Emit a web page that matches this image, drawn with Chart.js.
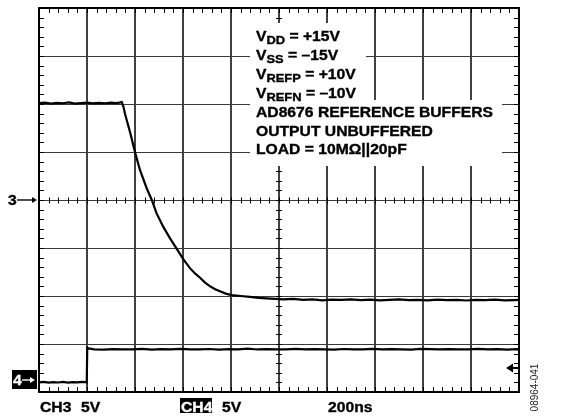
<!DOCTYPE html>
<html>
<head>
<meta charset="utf-8">
<script src="https://cdn.jsdelivr.net/npm/chart.js@4.4.1/dist/chart.umd.min.js"></script>
<style>
  html, body { margin: 0; padding: 0; background: #fff; }
  #wrap { width: 561px; height: 416px; }
</style>
</head>
<body>
<div id="wrap"><canvas id="scope" width="561" height="416"></canvas></div>
<script>
    // scope settings
    const nsPerDiv = 200;
    const voltsPerDiv = 5;
    const divsX = 10;
    const divsY = 8;
    const ch4GroundDiv = -3.75;   // CH4 marker sits below CH3 ground

    // CH3: buffered reference output, ns / V
    const ch3Time = [0, 25, 50, 75, 100, 125, 150, 175, 200, 225, 250, 275, 300, 320, 335, 345,
        352, 358, 368, 379, 391, 403, 421, 449, 470, 490, 518, 546, 574, 601, 629, 650, 671, 692,
        713, 734, 754, 778, 803, 840, 879, 915, 948, 985, 1020, 1060, 1100, 1140, 1180, 1220, 1260,
        1300, 1340, 1380, 1420, 1460, 1500, 1540, 1580, 1620, 1660, 1700, 1740, 1780, 1820, 1860,
        1900, 1940, 1980, 2000];
    const ch3Volts = [10.1, 10.15, 10.05, 10.12, 10.08, 10.16, 10.05, 10.1, 10.14, 10.06, 10.12, 10.08, 10.15, 10.1, 10.14, 10.2,
        9.7, 9.0, 8.1, 7.1, 5.9, 4.7, 3.1, 1.2, 0, -1.4, -2.8, -4.0, -5.1, -6.15, -7.1, -7.65, -8.1, -8.6,
        -9.0, -9.3, -9.5, -9.75, -9.9, -10.0, -10.1, -10.2, -10.25, -10.3, -10.35, -10.3, -10.4, -10.35, -10.45, -10.38, -10.4,
        -10.36, -10.42, -10.38, -10.45, -10.4, -10.36, -10.42, -10.4, -10.46, -10.38, -10.42, -10.4, -10.47, -10.4, -10.43,
        -10.38, -10.45, -10.42, -10.4];

    // CH4: logic step, ns / V
    const ch4Time = [0, 20, 40, 60, 80, 100, 120, 140, 160, 180, 199, 201, 206, 230, 270, 310, 350, 390,
        430, 470, 510, 550, 590, 630, 670, 710, 750, 790, 830, 870, 910, 950, 990, 1030, 1070, 1110,
        1150, 1190, 1230, 1270, 1310, 1350, 1390, 1430, 1470, 1510, 1550, 1590, 1630, 1670, 1710,
        1750, 1790, 1830, 1870, 1910, 1950, 1990, 2000];
    const ch4Volts = [-0.25, -0.2, -0.28, -0.22, -0.26, -0.2, -0.27, -0.22, -0.25, -0.2, -0.25, 3.35, 3.3, 3.2, 3.16, 3.22, 3.18, 3.2,
        3.24, 3.17, 3.21, 3.19, 3.25, 3.18, 3.2, 3.23, 3.17, 3.21, 3.2, 3.26, 3.18, 3.22, 3.19, 3.2, 3.24, 3.18,
        3.21, 3.2, 3.17, 3.23, 3.2, 3.19, 3.25, 3.18, 3.22, 3.2, 3.17, 3.24, 3.21, 3.19, 3.22,
        3.2, 3.18, 3.25, 3.2, 3.21, 3.17, 3.22, 3.2];

    const noteLines = [
        [['V', 0], ['DD', 1], [' = +15V', 0]],
        [['V', 0], ['SS', 1], [' = \u201315V', 0]],
        [['V', 0], ['REFP', 1], [' = +10V', 0]],
        [['V', 0], ['REFN', 1], [' = \u201310V', 0]],
        [['AD8676 REFERENCE BUFFERS', 0]],
        [['OUTPUT UNBUFFERED', 0]],
        [['LOAD = 10M\u03a9||20pF', 0]]
    ];
    const ch3Label = 'CH3';
    const ch4Label = 'CH4';
    const scaleLabel = '5V';
    const timeLabel = '200ns';
    const figureId = '08964-041';

    const FONT = '"Liberation Sans", Arial, Helvetica, sans-serif';
    const STRETCH = 1.12;

    // bold text, slightly widened and heavier like the scope's screen font
    function wideText(ctx, str, x, y, size, color) {
        ctx.save();
        ctx.font = 'bold ' + size + 'px ' + FONT;
        ctx.fillStyle = color || '#000';
        ctx.strokeStyle = color || '#000';
        ctx.lineWidth = 0.35;
        ctx.textBaseline = 'alphabetic';
        ctx.textAlign = 'left';
        ctx.translate(x, y);
        ctx.scale(STRETCH, 1);
        ctx.fillText(str, 0, 0);
        ctx.strokeText(str, 0, 0);
        const w = ctx.measureText(str).width * STRETCH;
        ctx.restore();
        return x + w;
    }

    function arrowRight(ctx, x0, x1, y, color) {
        ctx.save();
        ctx.strokeStyle = color;
        ctx.fillStyle = color;
        ctx.lineWidth = 1.4;
        ctx.beginPath();
        ctx.moveTo(x0, y);
        ctx.lineTo(x1 - 3, y);
        ctx.stroke();
        ctx.beginPath();
        ctx.moveTo(x1, y);
        ctx.lineTo(x1 - 5, y - 3);
        ctx.lineTo(x1 - 5, y + 3);
        ctx.closePath();
        ctx.fill();
        ctx.restore();
    }

    const crisp = v => Math.round(v) + 0.5;

    const scopeGrid = {
        id: 'scopeGrid',
        beforeDatasetsDraw(chart) {
            const ctx = chart.ctx;
            const xs = chart.scales.x;
            const ys = chart.scales.y;
            const a = chart.chartArea;
            const tMax = nsPerDiv * divsX;
            const vMax = voltsPerDiv * divsY / 2;

            ctx.save();

            // major divisions
            ctx.lineWidth = 1.5;
            ctx.strokeStyle = '#000';
            for (let i = 1; i < divsX; i++) {
                const px = Math.round(xs.getPixelForValue(i * nsPerDiv));
                ctx.beginPath();
                ctx.moveTo(px, a.top);
                ctx.lineTo(px, a.bottom);
                ctx.stroke();
            }
            ctx.lineWidth = 1.2;
            ctx.strokeStyle = '#3a3a3a';
            for (let j = 1; j < divsY; j++) {
                const py = crisp(ys.getPixelForValue(-vMax + j * voltsPerDiv));
                ctx.beginPath();
                ctx.moveTo(a.left, py);
                ctx.lineTo(a.right, py);
                ctx.stroke();
            }

            // minor ticks: border and centre cross
            ctx.lineWidth = 1;
            ctx.strokeStyle = '#000';
            const cx = Math.round(xs.getPixelForValue(tMax / 2));
            const cy = crisp(ys.getPixelForValue(0));
            ctx.beginPath();
            for (let t = 0; t <= tMax; t += nsPerDiv / 5) {
                const px = crisp(xs.getPixelForValue(t));
                ctx.moveTo(px, a.top); ctx.lineTo(px, a.top + 5);
                ctx.moveTo(px, a.bottom); ctx.lineTo(px, a.bottom - 5);
                ctx.moveTo(px, cy - 3); ctx.lineTo(px, cy + 3);
            }
            for (let v = -vMax; v <= vMax; v += voltsPerDiv / 5) {
                const py = crisp(ys.getPixelForValue(v));
                ctx.moveTo(a.left, py); ctx.lineTo(a.left + 5, py);
                ctx.moveTo(a.right, py); ctx.lineTo(a.right - 5, py);
                ctx.moveTo(cx - 3, py); ctx.lineTo(cx + 3, py);
            }
            ctx.stroke();

            // settings panel
            ctx.fillStyle = '#fff';
            ctx.fillRect(250, 23, 116, 77);
            ctx.fillRect(250, 100, 252, 66);
            noteLines.forEach((line, k) => {
                const base = 41 + k * 18.9;
                let x = 256;
                line.forEach(([txt, sub]) => {
                    x = sub ? wideText(ctx, txt, x, base + 3, 11.5) : wideText(ctx, txt, x, base, 14);
                });
            });

            // frame
            ctx.lineWidth = 2;
            ctx.strokeStyle = '#000';
            ctx.strokeRect(a.left, a.top, a.right - a.left, a.bottom - a.top);
            ctx.restore();
        },
        afterDraw(chart) {
            const ctx = chart.ctx;
            const ys = chart.scales.y;
            const y4 = chart.scales.y4;
            const g3 = ys.getPixelForValue(0);
            const g4 = y4.getPixelForValue(0);

            // channel ground markers
            wideText(ctx, '3', 8, g3 + 5, 14);
            arrowRight(ctx, 17, 37, g3, '#000');
            ctx.fillStyle = '#000';
            ctx.fillRect(12, g4 - 10, 25, 19);
            wideText(ctx, '4', 13, g4 + 5, 14, '#fff');
            arrowRight(ctx, 22, 35, g4, '#fff');

            // trigger level marker
            ctx.save();
            ctx.fillStyle = '#000';
            ctx.strokeStyle = '#000';
            ctx.lineWidth = 2;
            ctx.beginPath();
            ctx.moveTo(506, 368);
            ctx.lineTo(513, 363.5);
            ctx.lineTo(513, 372.5);
            ctx.closePath();
            ctx.fill();
            ctx.beginPath();
            ctx.moveTo(512, 368);
            ctx.lineTo(519, 368);
            ctx.stroke();
            ctx.restore();

            // channel / timebase readout
            wideText(ctx, ch3Label, 40, 412, 14);
            wideText(ctx, scaleLabel, 81, 412, 14);
            ctx.fillStyle = '#000';
            ctx.fillRect(180, 398, 32, 15);
            wideText(ctx, ch4Label, 181, 412, 14, '#fff');
            wideText(ctx, scaleLabel, 222, 412, 14);
            wideText(ctx, timeLabel, 328, 412, 14);

            ctx.save();
            ctx.translate(538, 387.5);
            ctx.rotate(-Math.PI / 2);
            ctx.font = '10px ' + FONT;
            ctx.fillStyle = '#222';
            ctx.textAlign = 'center';
            ctx.textBaseline = 'alphabetic';
            ctx.fillText(figureId, 0, 0);
            ctx.restore();
        }
    };

    function createChart() {
        const ctx = document.getElementById('scope').getContext('2d');
        const vMax = voltsPerDiv * divsY / 2;
        new Chart(ctx, {
            type: 'line',
            data: {
                datasets: [{
                    label: 'CH3',
                    data: ch3Time.map((t, i) => ({ x: t, y: ch3Volts[i] })),
                    yAxisID: 'y',
                    borderColor: '#000',
                    borderWidth: 2.2,
                    pointRadius: 0,
                    tension: 0,
                    fill: false
                }, {
                    label: 'CH4',
                    data: ch4Time.map((t, i) => ({ x: t, y: ch4Volts[i] })),
                    yAxisID: 'y4',
                    borderColor: '#000',
                    borderWidth: 2.2,
                    pointRadius: 0,
                    tension: 0,
                    fill: false
                }]
            },
            options: {
                responsive: false,
                animation: false,
                layout: { padding: { left: 39, right: 42, top: 8, bottom: 24 } },
                scales: {
                    x: { type: 'linear', min: 0, max: nsPerDiv * divsX, display: false },
                    y: { min: -vMax, max: vMax, display: false },
                    y4: {
                        min: (-divsY / 2 - ch4GroundDiv) * voltsPerDiv,
                        max: (divsY / 2 - ch4GroundDiv) * voltsPerDiv,
                        display: false
                    }
                },
                plugins: {
                    legend: { display: false },
                    tooltip: { enabled: false }
                }
            },
            plugins: [scopeGrid]
        });
    }

    window.onload = createChart;
</script>
</body>
</html>
